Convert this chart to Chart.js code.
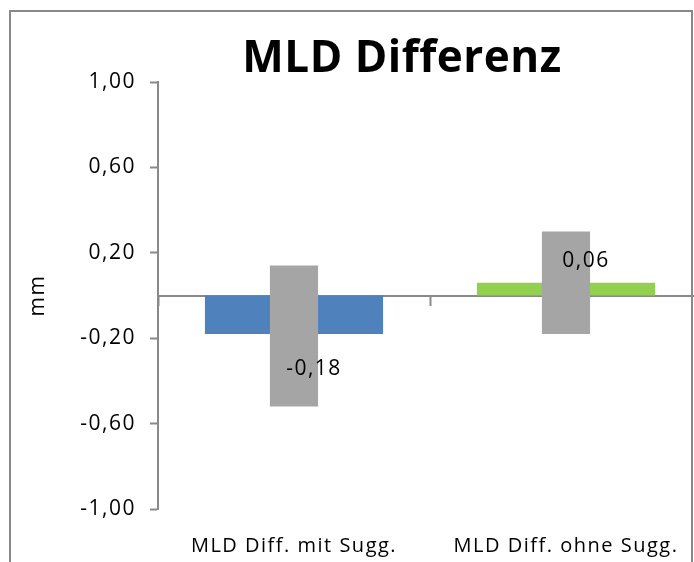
<!DOCTYPE html>
<html>
<head>
<meta charset="utf-8">
<title>MLD Differenz</title>
<script src="https://cdn.jsdelivr.net/npm/chart.js@4.4.1/dist/chart.umd.min.js"></script>
<style>
  html, body { margin: 0; padding: 0; background: #ffffff; overflow: hidden; }
  #wrap { position: relative; width: 694px; height: 562px; overflow: hidden; background: #ffffff; }
  #plot { position: absolute; left: 0; top: 0; width: 712px; height: 562px; }
  #frame {
    position: absolute; left: 9px; top: 10px; width: 684px; height: 640px;
    border: 2px solid #898989; box-sizing: border-box; pointer-events: none;
  }
</style>
</head>
<body>
<div id="wrap">
  <div id="plot"><canvas id="chart" width="712" height="562"></canvas></div>
  <div id="frame"></div>
</div>
<script>
// Categories and measured differences (mm)
const CATEGORIES = ['MLD Diff. mit Sugg.', 'MLD Diff. ohne Sugg.'];
const MEAN_DIFF = [-0.18, 0.06];
// Spread around each mean (lower and upper end of the grey band)
const SPREAD_LOW = [-0.52, -0.18];
const SPREAD_HIGH = [0.14, 0.30];
// Value axis ticks
const Y_MIN = -1.0;
const Y_MAX = 1.0;
const Y_STEP = 0.4;
const TITLE = 'MLD Differenz';
const Y_TITLE = 'mm';

const BAR_COLORS = ['#4F81BD', '#92D050'];
const SPREAD_COLOR = '#A5A5A5';
const AXIS_COLOR = '#898989';
const FONT = '"Open Sans"';

const fmt = v => v.toFixed(2).replace('.', ',');

// Slightly open letter spacing for all chart text
const spacing = {
  id: 'spacing',
  beforeDraw(chart, args, opts) {
    chart.ctx.letterSpacing = opts.value;
  }
};

// Chart title, placed over the plot
const titlePlugin = {
  id: 'chartTitle',
  afterDraw(chart, args, opts) {
    const ctx = chart.ctx;
    ctx.save();
    ctx.letterSpacing = '0.5px';
    ctx.font = 'bold 44px ' + FONT;
    ctx.fillStyle = '#000000';
    ctx.textAlign = 'center';
    ctx.textBaseline = 'alphabetic';
    ctx.fillText(opts.text, opts.x, opts.y);
    ctx.restore();
  }
};

// Value labels next to the coloured bars
const valueLabels = {
  id: 'valueLabels',
  afterDatasetsDraw(chart, args, opts) {
    const ctx = chart.ctx;
    const meta = chart.getDatasetMeta(1);
    const data = chart.data.datasets[1].data;
    ctx.save();
    ctx.font = '21px ' + FONT;
    ctx.fillStyle = '#000000';
    ctx.textAlign = 'center';
    ctx.textBaseline = 'middle';
    meta.data.forEach((bar, i) => {
      const v = data[i];
      const dy = v < 0 ? opts.below : -opts.above;
      ctx.fillText(fmt(v), bar.x + opts.dx, bar.y + dy);
    });
    ctx.restore();
  }
};

async function draw() {
  try {
    await document.fonts.load('21px ' + FONT);
    await document.fonts.load('bold 44px ' + FONT);
  } catch (e) {}
  Chart.defaults.font.family = FONT;
  Chart.defaults.color = '#000000';

  new Chart(document.getElementById('chart'), {
    type: 'bar',
    data: {
      labels: CATEGORIES,
      datasets: [
        {
          label: 'Streuung',
          data: SPREAD_LOW.map((lo, i) => [lo, SPREAD_HIGH[i]]),
          backgroundColor: SPREAD_COLOR,
          barPercentage: 0.177,
          categoryPercentage: 1,
          grouped: false,
          order: 0
        },
        {
          label: 'Differenz',
          data: MEAN_DIFF,
          backgroundColor: BAR_COLORS,
          barPercentage: 0.655,
          categoryPercentage: 1,
          grouped: false,
          order: 1
        }
      ]
    },
    options: {
      responsive: false,
      animation: false,
      devicePixelRatio: 1,
      layout: { padding: { left: 0, right: 10, top: 82, bottom: 0 } },
      plugins: {
        legend: { display: false },
        tooltip: { enabled: false },
        title: { display: false },
        spacing: { value: '1.5px' },
        chartTitle: { text: TITLE, x: 402, y: 72 },
        valueLabels: { dx: 20, below: 35, above: 22 }
      },
      scales: {
        x: {
          type: 'category',
          axis: 'x',
          position: { y: 0 },
          offset: true,
          grid: {
            offset: true,
            drawOnChartArea: false,
            drawTicks: true,
            tickLength: 9,
            tickWidth: 2,
            tickColor: AXIS_COLOR
          },
          border: { display: true, color: AXIS_COLOR, width: 2 },
          ticks: { display: false }
        },
        xl: {
          type: 'category',
          axis: 'x',
          position: 'bottom',
          offset: true,
          grid: { display: false, drawTicks: false },
          border: { display: false },
          ticks: { font: { size: 20, family: FONT }, color: '#000000', padding: 25, maxRotation: 0, autoSkip: false },
          afterFit(scale) { scale.height = 53; }
        },
        y: {
          min: Y_MIN,
          max: Y_MAX,
          position: 'left',
          grid: {
            drawOnChartArea: false,
            drawTicks: true,
            tickLength: 8,
            tickWidth: 2,
            tickColor: AXIS_COLOR
          },
          border: { display: true, color: AXIS_COLOR, width: 2 },
          ticks: {
            stepSize: Y_STEP,
            padding: 14,
            font: { size: 21, family: FONT },
            color: '#000000',
            callback: v => fmt(v)
          },
          title: {
            display: true,
            text: Y_TITLE,
            font: { size: 21, family: FONT },
            color: '#000000',
            padding: { top: 25, bottom: 0 }
          },
          afterFit(scale) { scale.width = 158; }
        }
      }
    },
    plugins: [spacing, titlePlugin, valueLabels]
  });
}
draw();
</script>
</body>
</html>
